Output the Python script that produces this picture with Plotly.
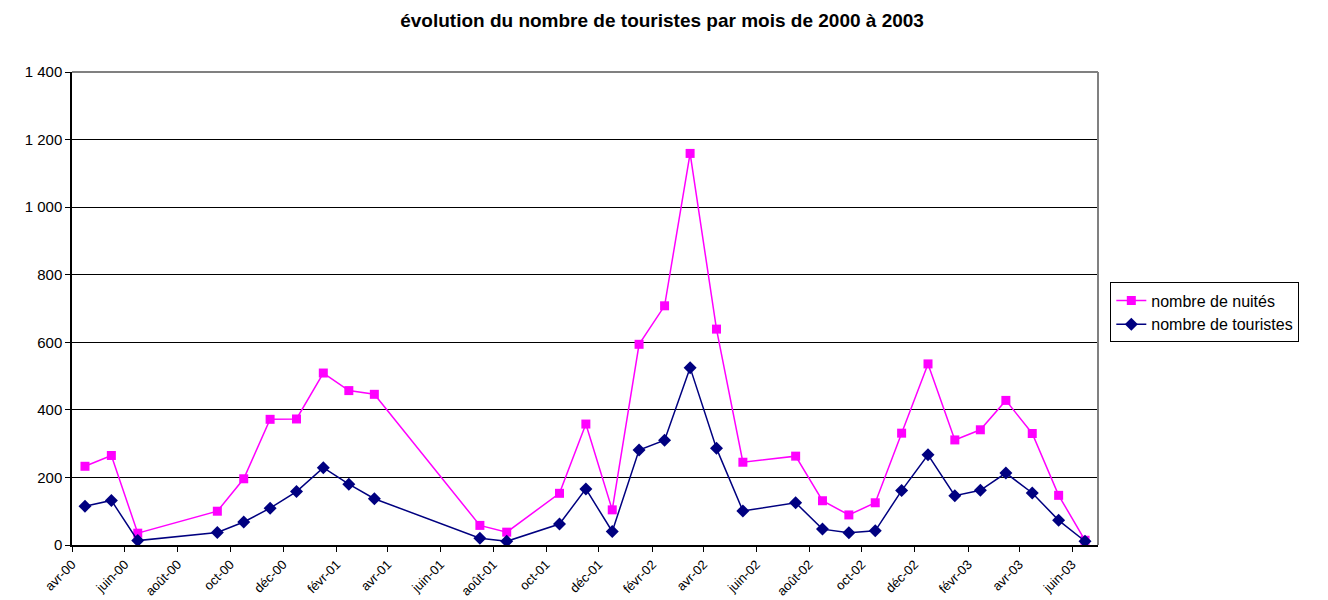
import pandas as pd
import plotly.graph_objects as go

# ---- data ----
months = ["2000-04", "2000-05", "2000-06", "2000-09", "2000-10", "2000-11", "2000-12",
          "2001-01", "2001-02", "2001-03", "2001-07", "2001-08", "2001-10", "2001-11",
          "2001-12", "2002-01", "2002-02", "2002-03", "2002-04", "2002-05", "2002-07",
          "2002-08", "2002-09", "2002-10", "2002-11", "2002-12", "2003-01", "2003-02",
          "2003-03", "2003-04", "2003-05", "2003-06"]
nuites = [233, 265, 35, 100, 196, 372, 373, 509, 457, 446, 58, 38, 153, 358, 104,
          594, 708, 1159, 639, 245, 263, 131, 89, 125, 331, 536, 311, 341, 428, 330, 147, 14]
touristes = [115, 132, 13, 37, 68, 109, 158, 229, 180, 137, 20, 11, 62, 166, 40,
             281, 310, 525, 286, 101, 125, 47, 36, 42, 161, 267, 146, 162, 213, 154, 73, 11]
tick_months = ["2000-04", "2000-06", "2000-08", "2000-10", "2000-12", "2001-02", "2001-04",
               "2001-06", "2001-08", "2001-10", "2001-12", "2002-02", "2002-04", "2002-06",
               "2002-08", "2002-10", "2002-12", "2003-02", "2003-04", "2003-06"]
tick_labels = ["avr-00", "juin-00", "août-00", "oct-00", "déc-00", "févr-01", "avr-01",
               "juin-01", "août-01", "oct-01", "déc-01", "févr-02", "avr-02", "juin-02",
               "août-02", "oct-02", "déc-02", "févr-03", "avr-03", "juin-03"]
y_ticks = [0, 200, 400, 600, 800, 1000, 1200, 1400]

# mid-month positions
periods = [pd.Period(m, freq="M") for m in months]
x_mid = [p.start_time + (p.end_time - p.start_time) / 2 for p in periods]
tick_vals = [pd.Period(m, freq="M").start_time for m in tick_months]
x_start = pd.Period(months[0], freq="M").start_time
x_end = pd.Period(months[-1], freq="M").end_time

FONT = "Liberation Sans, Arial, sans-serif"

fig = go.Figure()
fig.add_trace(go.Scatter(
    x=x_mid, y=nuites, mode="lines+markers", name="nombre de nuités",
    line=dict(color="#FF00FF", width=1.5),
    marker=dict(symbol="square", size=9, color="#FF00FF"),
))
fig.add_trace(go.Scatter(
    x=x_mid, y=touristes, mode="lines+markers", name="nombre de touristes",
    line=dict(color="#000080", width=1.5),
    marker=dict(symbol="diamond", size=10, color="#000080"),
))

# page body has an 8px margin, so the figure is 1320x592
fig.update_layout(
    width=1320, height=592,
    margin=dict(l=64, r=230, t=64, b=55),
    paper_bgcolor="white", plot_bgcolor="white",
    separators=", ",
    font=dict(family=FONT, size=15, color="black"),
    title=dict(text="<b>évolution du nombre de touristes par mois de 2000 à 2003</b>",
               x=0.4955, xref="container", xanchor="center",
               y=1 - 12 / 592, yref="container", yanchor="middle",
               font=dict(family=FONT, size=19, color="black")),
    showlegend=True,
    legend=dict(x=1.012, y=0.555, xanchor="left", yanchor="top",
                bordercolor="black", borderwidth=1, bgcolor="white",
                font=dict(family=FONT, size=16, color="black"),
                tracegroupgap=0),
    xaxis=dict(
        type="date", range=[x_start, x_end], automargin=False,
        tickvals=tick_vals, ticktext=tick_labels, tickangle=-45,
        showgrid=False, zeroline=False,
        showline=True, linecolor="black", linewidth=1.5,
        ticks="outside", ticklen=5, tickcolor="black",
        tickfont=dict(family=FONT, size=13, color="black"),
    ),
    yaxis=dict(
        range=[0, 1400], tickvals=y_ticks, tickformat=",d", automargin=False,
        showgrid=True, gridcolor="black", gridwidth=1,
        zeroline=False,
        showline=True, linecolor="black", linewidth=1.5,
        ticks="outside", ticklen=5, tickcolor="black",
        tickfont=dict(family=FONT, size=15, color="black"),
    ),
    shapes=[
        dict(type="line", xref="paper", yref="paper", x0=0, x1=1, y0=1, y1=1,
             line=dict(color="#808080", width=2)),
        dict(type="line", xref="paper", yref="paper", x0=1, x1=1, y0=0, y1=1,
             line=dict(color="#808080", width=2)),
    ],
)

fig.write_html("out.html")
